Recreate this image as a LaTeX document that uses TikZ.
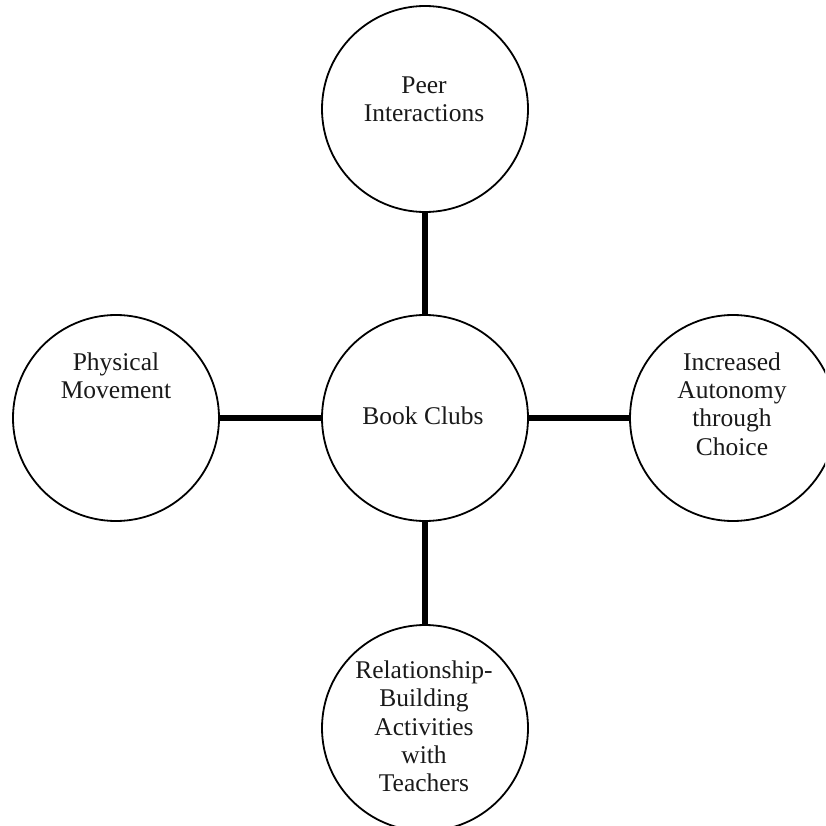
\documentclass[tikz,border=0pt]{standalone}
\usepackage{fontspec}
\setmainfont{Liberation Serif}
\begin{document}
\begin{tikzpicture}[x=1pt,y=-1pt,
  bubble/.style={circle,draw=black,line width=1.8pt,minimum size=206pt,inner sep=0pt},
  caption/.style={inner sep=0pt,align=center,text=black!90,
    font=\fontsize{25.5pt}{28.3pt}\selectfont},
  link/.style={line width=6pt,draw=black}]
  \useasboundingbox (0,0) rectangle (825,826);
  \clip (0,0) rectangle (825,826);

  % circles
  \node[bubble] (peer)   at (425,109) {};
  \node[bubble] (clubs)  at (425,418) {};
  \node[bubble] (move)   at (116,418) {};
  \node[bubble] (auto)   at (733,418) {};
  \node[bubble] (rel)    at (425,728) {};

  % spokes from the hub
  \draw[link] (clubs.north) -- (peer.south);
  \draw[link] (clubs.south) -- (rel.north);
  \draw[link] (clubs.west)  -- (move.east);
  \draw[link] (clubs.east)  -- (auto.west);

  % labels
  \node[caption,anchor=north] (tpeer) at (424,76.5) {Peer\\Interactions};
  \node[caption,anchor=base]  (tclubs) at (423,424) {Book Clubs};
  \node[caption,anchor=north] (tmove) at (116,352.5) {Physical\\Movement};
  \node[caption,anchor=north] (tauto) at (732,352.5) {Increased\\Autonomy\\through\\Choice};
  \node[caption,anchor=north] (trel)  at (424,660.5) {Relationship-\\Building\\Activities\\with\\Teachers};
\end{tikzpicture}
\end{document}
